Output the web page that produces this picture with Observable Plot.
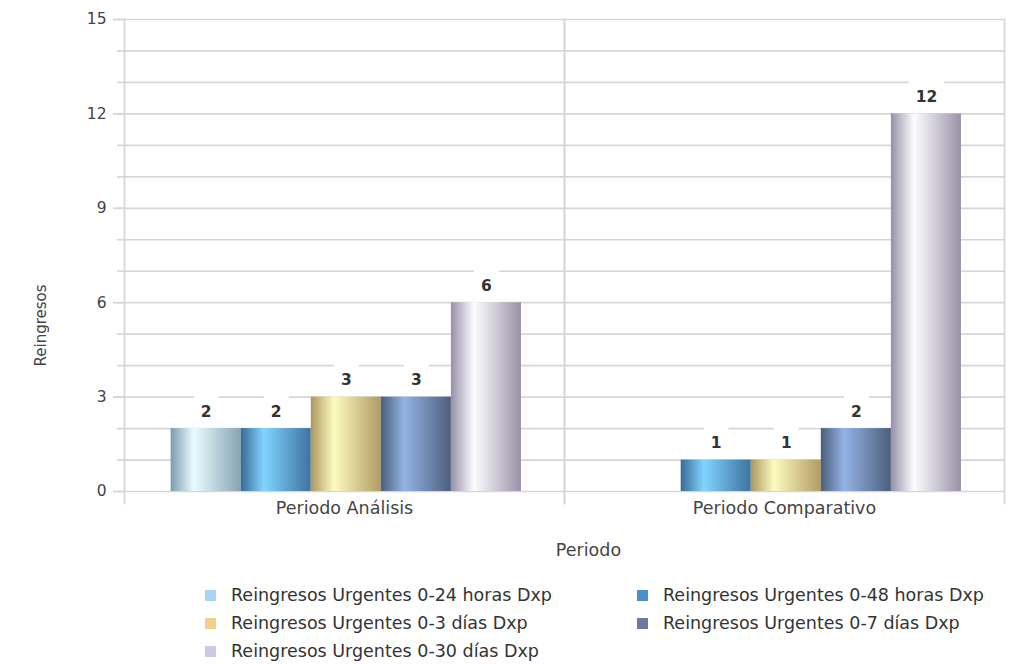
<!DOCTYPE html>
<html>
<head>
<meta charset="utf-8">
<script src="https://cdn.jsdelivr.net/npm/d3@7"></script>
<script src="https://cdn.jsdelivr.net/npm/@observablehq/plot@0.6"></script>
<style>
  html, body { margin: 0; padding: 0; background: #fff; }
  body { width: 1014px; height: 664px; overflow: hidden; font-family: "DejaVu Sans", sans-serif; }
  #legend { position: absolute; left: 0; top: 581px; width: 1014px; font-size: 17.5px; color: #333; }
  .item { position: absolute; height: 28px; line-height: 28px; white-space: nowrap; }
  .sw { display: inline-block; width: 11px; height: 11px; margin-right: 15px; vertical-align: 0px; }
</style>
</head>
<body>
<svg width="0" height="0" style="position:absolute">
  <defs id="grads"></defs>
</svg>
<div id="chart"></div>
<div id="legend"></div>
<script>
// ---- data ----
const periods = ["Periodo Análisis", "Periodo Comparativo"];
const series = [
  "Reingresos Urgentes 0-24 horas Dxp",
  "Reingresos Urgentes 0-48 horas Dxp",
  "Reingresos Urgentes 0-3 días Dxp",
  "Reingresos Urgentes 0-7 días Dxp",
  "Reingresos Urgentes 0-30 días Dxp"
];
const valuesAnalisis = [2, 2, 3, 3, 6];
const valuesComparativo = [null, 1, 1, 2, 12];
const yTicksMajor = [0, 3, 6, 9, 12, 15];
const yTicksMinor = d3.range(0, 16);
const legendColors = ["#a6d5f5", "#4a8fd0", "#f0d18c", "#6a7b9c", "#d0c6e6"];
// gradient stops: [edgeLeft, highlight, edgeRight]
const gradientStops = [
  ["#7b9bae", "#e9fcff", "#88a3b5"],
  ["#3a6a96", "#80d4ff", "#3e72a0"],
  ["#a99660", "#fdfbbd", "#b09b64"],
  ["#4b5d7c", "#93b3e3", "#4d5f7e"],
  ["#978fa7", "#fdfdff", "#9a92a8"]
];

// ---- gradients ----
const defs = d3.select("#grads");
gradientStops.forEach((s, i) => {
  const g = defs.append("linearGradient").attr("id", "g" + i)
    .attr("x1", "0").attr("x2", "1").attr("y1", "0").attr("y2", "0");
  g.append("stop").attr("offset", "0%").attr("stop-color", s[0]);
  g.append("stop").attr("offset", "33%").attr("stop-color", s[1]);
  g.append("stop").attr("offset", "100%").attr("stop-color", s[2]);
});

// ---- table ----
const data = [];
series.forEach((s, i) => {
  data.push({period: periods[0], series: s, value: valuesAnalisis[i]});
  data.push({period: periods[1], series: s, value: valuesComparativo[i]});
});
const labelled = data.filter(d => d.value != null);

const lineColor = "#d6d6d6";
const lw = 1.7;

const chart = Plot.plot({
  width: 1014,
  height: 570,
  marginLeft: 123,
  marginRight: 10,
  marginTop: 19,
  marginBottom: 79,
  style: {fontFamily: "DejaVu Sans, sans-serif", fontSize: "15px", color: "#444", background: "white"},
  fx: {domain: periods, padding: 0, label: null},
  x: {domain: series, paddingInner: 0, paddingOuter: 0.64, align: 0.52, axis: null, round: false},
  y: {domain: [0, 15]},
  color: {domain: series, range: series.map((_, i) => `url(#g${i})`)},
  marks: [
    Plot.gridY(yTicksMinor, {stroke: lineColor, strokeOpacity: 1, strokeWidth: lw}),
    Plot.frame({anchor: "left", stroke: lineColor, strokeWidth: lw, insetBottom: -12}),
    Plot.frame({anchor: "right", stroke: lineColor, strokeWidth: lw, insetBottom: -12}),
    Plot.axisY({ticks: yTicksMinor, tickSize: 7, text: null, label: null, stroke: lineColor, strokeWidth: lw}),
    Plot.axisY({ticks: yTicksMajor, tickSize: 11, text: null, label: null, stroke: lineColor, strokeWidth: lw}),
    Plot.axisY({ticks: yTicksMajor, tickSize: 0, tickPadding: 18, label: null, fill: "#444", fontSize: 15.5}),
    Plot.barY(data, {fx: "period", x: "series", y: "value", fill: "series"}),
    Plot.text(labelled, {fx: "period", x: "series", y: "value", text: d => String(d.value),
      dy: -17, fontWeight: "bold", fontSize: 15.5, fill: "#333", className: "vlabel"}),
    Plot.axisFx({anchor: "bottom", tickSize: 0, tickPadding: 10, label: null, fill: "#444", fontSize: 17.5}),
    Plot.text(["Reingresos"], {fx: () => periods[0], frameAnchor: "left", dx: -83, dy: 70, rotate: -90,
      textAnchor: "middle", lineAnchor: "middle", fill: "#444", fontSize: 15}),
    Plot.text(["Periodo"], {fx: () => periods[1], frameAnchor: "bottom-left", dx: 24, dy: 59,
      textAnchor: "middle", lineAnchor: "middle", fill: "#444", fontSize: 17.5})
  ]
});
document.getElementById("chart").append(chart);

// white boxes behind value labels
d3.select(chart).selectAll(".vlabel text").each(function() {
  const b = this.getBBox();
  const r = document.createElementNS("http://www.w3.org/2000/svg", "rect");
  r.setAttribute("x", b.x - 7);
  r.setAttribute("y", b.y - 7);
  r.setAttribute("width", b.width + 14);
  r.setAttribute("height", b.height + 14);
  r.setAttribute("fill", "white");
  const t = this.getAttribute("transform");
  if (t) r.setAttribute("transform", t);
  this.parentNode.insertBefore(r, this);
});

// ---- legend ----
const legend = d3.select("#legend");
const pos = [[205, 0], [637, 0], [205, 28], [637, 28], [205, 56]];
series.forEach((s, i) => {
  const it = legend.append("div").attr("class", "item")
    .style("left", pos[i][0] + "px").style("top", pos[i][1] + "px");
  it.append("span").attr("class", "sw").style("background", legendColors[i]);
  it.append("span").text(s);
});
</script>
</body>
</html>
